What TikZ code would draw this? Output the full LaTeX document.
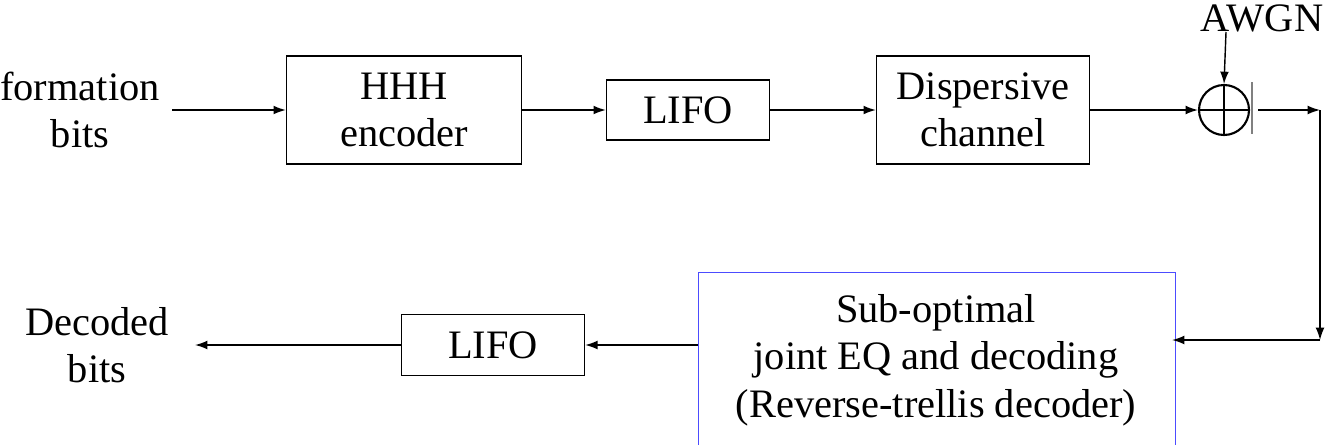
\documentclass[tikz,border=0pt]{standalone}
\usepackage{fontspec}
\setmainfont{Liberation Serif}
\usetikzlibrary{arrows.meta, positioning}
\tikzset{
    blk/.style={draw, thick, align=center, font=\fontsize{23}{27}\selectfont, inner sep=0pt},
    txt/.style={align=center, font=\fontsize{23}{27}\selectfont, inner sep=0pt},
    arr/.style={-{Latex[length=7pt,width=5pt]}, thick}
}
\begin{document}
\begin{tikzpicture}[x=0.02cm, y=-0.02cm]
    \useasboundingbox (0,0) rectangle (1331,444);
    % top chain
    \node[txt] (src) at (80,110) {formation\\bits};
    \node[blk, minimum width=235*0.02cm, minimum height=108*0.02cm] (enc) at (404,110) {HHH\\encoder};
    \node[blk, minimum width=163*0.02cm, minimum height=60*0.02cm] (lifo1) at (688,110) {LIFO};
    \node[blk, minimum width=213*0.02cm, minimum height=108*0.02cm] (chan) at (983,110) {Dispersive\\channel};
    \node[draw, very thick, circle, minimum size=50*0.02cm, inner sep=0pt] (add) at (1224,110) {};
    \draw[very thick] (add.north) -- (add.south) (add.west) -- (add.east);
    \coordinate (bar1) at (1252,82);
    \coordinate (bar2) at (1252,134);
    \draw[gray, thick] (bar1) -- (bar2);
    \node[txt] (awgn) at (1262,18) {AWGN};
    \coordinate (nz) at (1226,32);
    \coordinate (outA) at (1258,110);
    \coordinate (outB) at (1320,110);
    \coordinate (outC) at (1320,340);
    \draw[arr] (172,110) -- (enc.west);
    \draw[arr] (enc.east) -- (lifo1.west);
    \draw[arr] (lifo1.east) -- (chan.west);
    \draw[arr] (chan.east) -- (add.west);
    \draw[arr] (nz) -- (add.north);
    % feedback to decoder
    \draw[arr] (outA) -- (outB);
    \draw[arr] (outB) -- (outC);
    % bottom chain
    \node[blk, draw=blue!70, minimum width=477*0.02cm, minimum height=190*0.02cm, anchor=north west] (dec) at (698,272) {};
    \node[txt] (dectxt) at (936,360) {Sub-optimal\\joint EQ and decoding\\(Reverse-trellis decoder)};
    \node[blk, minimum width=183*0.02cm, minimum height=61*0.02cm] (lifo2) at (493,345) {LIFO};
    \node[txt] (sink) at (97,345) {Decoded\\bits};
    \coordinate (snk) at (195,345);
    \draw[arr] (outC) -- (1172,340);
    \draw[arr] (dec.west |- lifo2) -- (lifo2.east);
    \draw[arr] (lifo2.west) -- (snk);
\end{tikzpicture}
\end{document}
